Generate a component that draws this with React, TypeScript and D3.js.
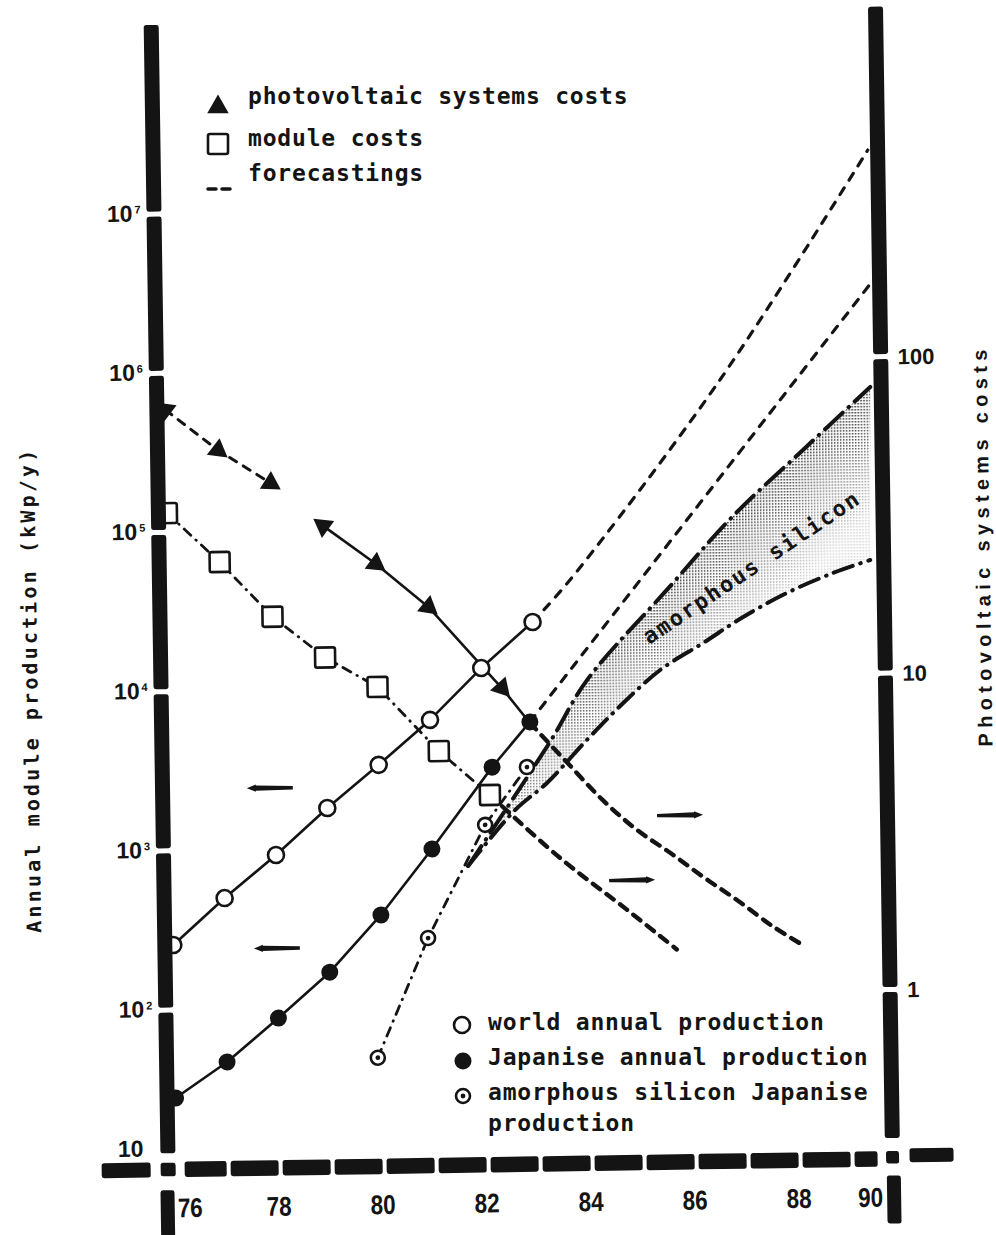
import React, { useRef, useEffect } from "react";
import * as d3 from "d3";

// production, left axis (kWp/y)
const worldYears = [76, 77, 78, 79, 80, 81, 82, 83];
const worldProduction = [256, 499, 920, 1795, 3315, 6280, 13150, 25300];
const worldForecastYears = [83, 83.73, 86.67, 89.58];
const worldForecast = [25300, 46100, 805000, 21700000];

const japanYears = [76, 77, 78, 79, 80, 81, 82.18, 82.92];
const japanProduction = [28, 46.6, 87, 167, 378, 971, 3130, 5970];
const japanForecastYears = [82.92, 89.58];
const japanForecast = [5970, 3100000];

const amorphousYears = [79.9, 80.9, 82.03, 82.85];
const amorphousProduction = [48, 268, 1360, 3110];

// amorphous silicon forecast band
const bandUpperYears = [81.69, 83.3, 84.03, 85.59, 86.87, 88.29, 89.56];
const bandUpper = [753, 4450, 10800, 39100, 111000, 296000, 705000];
const bandLowerYears = [81.69, 82.61, 83.23, 84.01, 84.72, 85.44, 86.27, 87.05, 87.9, 88.79, 89.51];
const bandLower = [753, 1675, 2460, 4540, 7690, 12300, 18000, 26000, 36500, 48200, 57700];
const bandLabel = "amorphous silicon";
const bandLabelYear = 87.29;
const bandLabelValue = 48300;

// costs, right axis
const systemYears = [76, 77, 78, 79, 80, 81, 82.39];
const systemCosts = [73.3, 54.4, 42.6, 31, 23.4, 17, 9.35];
const systemDashedUntil = 3;
const systemForecastYears = [82.92, 83.58, 84.3, 84.95, 85.58, 86.2, 86.85, 87.54, 88.09];
const systemForecast = [7.23, 5.5, 4.09, 3.28, 2.77, 2.32, 1.95, 1.6, 1.4];

const moduleYears = [76, 77, 78, 79, 80, 81.16, 82.13];
const moduleCosts = [34.6, 24.1, 16.1, 11.9, 9.55, 5.95, 4.3];
const moduleForecastYears = [82.13, 83.46, 84.73, 85.68];
const moduleForecast = [4.3, 2.7, 1.84, 1.37];

// little arrows telling which axis a curve belongs to
const leftArrowYears = [77.9, 77.99];
const leftArrowValues = [2430, 239];
const rightArrowYears = [85.78, 84.84];
const rightArrowValues = [3.64, 2.28];

const yearTicks = [76, 78, 80, 82, 84, 86, 88, 90];
const productionTicks = [1e7, 1e6, 1e5, 1e4, 1e3, 1e2];
const costTicks = [100, 10, 1];

const topLegend = ["photovoltaic systems costs", "module costs", "forecastings"];
const bottomLegend = ["world annual production", "Japanise annual production", "amorphous silicon Japanise", "production"];

const ink = "#141414";
const mono = "'DejaVu Sans Mono', 'Liberation Mono', monospace";
const sans = "'Liberation Sans', Arial, sans-serif";

export default function App() {
  const svgRef = useRef(null);

  useEffect(() => {
    const svg = d3.select(svgRef.current);
    svg.selectAll("*").remove();

    const x = d3.scaleLinear().domain([76, 90]).range([169, 897]);
    const yL = d3.scaleLog().domain([10, 1e7]).range([1164, 208.8]);
    const yR = d3.scaleLog().domain([1, 100]).range([995, 362]);

    const zip = (xs, vs) => xs.map((yr, i) => [yr, vs[i]]);
    const lineL = d3.line().x(d => x(d[0])).y(d => yL(d[1])).curve(d3.curveCatmullRom);
    const lineR = d3.line().x(d => x(d[0])).y(d => yR(d[1])).curve(d3.curveCatmullRom);

    const defs = svg.append("defs");
    const pat = defs.append("pattern").attr("id", "stipple")
      .attr("width", 3).attr("height", 3).attr("patternUnits", "userSpaceOnUse");
    pat.append("rect").attr("width", 1.5).attr("height", 1.5).attr("fill", ink);

    // the scan is a little tilted
    const g = svg.append("g").attr("transform", "rotate(-0.85 520 650)");

    // --- band (stippled, fading toward the lower edge)
    const up = zip(bandUpperYears, bandUpper);
    const lo = zip(bandLowerYears, bandLower);
    const last = up.length - 1;
    const tipX = x(up[0][0]), tipY = yL(up[0][1]);
    const endX = x(up[last][0]);
    const endY = (yL(up[last][1]) + yL(lo[lo.length - 1][1])) / 2;
    const len = Math.hypot(endX - tipX, endY - tipY);
    const nx = -(endY - tipY) / len, ny = (endX - tipX) / len;
    const gx = x(up[4][0]), gy = yL(up[4][1]);
    const grad = defs.append("linearGradient").attr("id", "bandFade")
      .attr("gradientUnits", "userSpaceOnUse")
      .attr("x1", gx).attr("y1", gy).attr("x2", gx + nx * 95).attr("y2", gy + ny * 95);
    grad.append("stop").attr("offset", 0).attr("stop-color", "#fff");
    grad.append("stop").attr("offset", 1).attr("stop-color", "#303030");
    defs.append("mask").attr("id", "bandMask").attr("maskUnits", "userSpaceOnUse")
      .attr("x", -200).attr("y", -200).attr("width", 1400).attr("height", 1600)
      .append("rect").attr("x", -200).attr("y", -200).attr("width", 1400).attr("height", 1600)
      .attr("fill", "url(#bandFade)");

    const bandPath = lineL(up) + lineL(lo.slice().reverse()).replace(/^M/, "L") + "Z";
    g.append("path").attr("d", bandPath).attr("fill", "url(#stipple)").attr("mask", "url(#bandMask)");

    const stroke = (sel, w, dash) => {
      sel.attr("fill", "none").attr("stroke", ink).attr("stroke-width", w)
        .attr("stroke-linecap", "round").attr("stroke-linejoin", "round");
      if (dash) sel.attr("stroke-dasharray", dash);
      return sel;
    };

    stroke(g.append("path").attr("d", lineL(up)), 4, "24 8 0.5 8");
    stroke(g.append("path").attr("d", lineL(lo)), 4, "20 8 0.5 8");

    // --- production lines
    const straightL = d3.line().x(d => x(d[0])).y(d => yL(d[1]));
    stroke(g.append("path").attr("d", straightL(zip(worldYears, worldProduction))), 2.6);
    stroke(g.append("path").attr("d", lineL(zip(worldForecastYears, worldForecast))), 3.2, "8 9");
    stroke(g.append("path").attr("d", straightL(zip(japanYears, japanProduction))), 2.6);
    stroke(g.append("path").attr("d", lineL(zip(japanForecastYears, japanForecast))), 3.2, "8 9");
    stroke(g.append("path").attr("d", straightL(zip(amorphousYears, amorphousProduction))), 2.8, "9 7 0.5 7");

    // --- cost lines
    const sys = zip(systemYears, systemCosts);
    const straightR = d3.line().x(d => x(d[0])).y(d => yR(d[1]));
    stroke(g.append("path").attr("d", straightR(sys.slice(0, systemDashedUntil))), 3, "8 8");
    stroke(g.append("path").attr("d", straightR(sys.slice(systemDashedUntil).concat([[systemForecastYears[0], systemForecast[0]]]))), 2.6);
    stroke(g.append("path").attr("d", lineR(zip(systemForecastYears, systemForecast))), 4.4, "9 8");
    stroke(g.append("path").attr("d", straightR(zip(moduleYears, moduleCosts))), 2.8, "9 7 0.5 7");
    stroke(g.append("path").attr("d", lineR(zip(moduleForecastYears, moduleForecast))), 4.4, "9 8");

    // --- markers
    moduleYears.forEach((yr, i) => {
      g.append("rect").attr("x", x(yr) - 10).attr("y", yR(moduleCosts[i]) - 10)
        .attr("width", 20).attr("height", 20).attr("rx", 2)
        .attr("fill", "#fff").attr("stroke", ink).attr("stroke-width", 2.6);
    });

    const tri = d3.symbol().type(d3.symbolTriangle).size(190)();
    const sysPts = sys.map(d => [x(d[0]), yR(d[1])]);
    sysPts.forEach((p, i) => {
      const first = i === 0 || i === systemDashedUntil;
      const q = first ? sysPts[i + 1] : sysPts[i - 1];
      const ang = Math.atan2(p[1] - q[1], p[0] - q[0]) * 180 / Math.PI + 90;
      g.append("path").attr("d", tri).attr("fill", ink)
        .attr("transform", `translate(${p[0]},${p[1]}) rotate(${ang})`);
    });

    worldYears.forEach((yr, i) => {
      g.append("circle").attr("cx", x(yr)).attr("cy", yL(worldProduction[i])).attr("r", 8)
        .attr("fill", "#fff").attr("stroke", ink).attr("stroke-width", 2.6);
    });
    japanYears.forEach((yr, i) => {
      g.append("circle").attr("cx", x(yr)).attr("cy", yL(japanProduction[i])).attr("r", 8.5).attr("fill", ink);
    });
    amorphousYears.forEach((yr, i) => {
      g.append("circle").attr("cx", x(yr)).attr("cy", yL(amorphousProduction[i])).attr("r", 7)
        .attr("fill", "#fff").attr("stroke", ink).attr("stroke-width", 2.6);
      g.append("circle").attr("cx", x(yr)).attr("cy", yL(amorphousProduction[i])).attr("r", 2.4).attr("fill", ink);
    });

    // --- little axis arrows
    const arrow = (cx, cy, dir) => {
      const tip = cx + dir * 23, base = tip - dir * 9, tail = cx - dir * 23;
      const p = d3.path();
      p.moveTo(tail, cy - 1.5);
      p.lineTo(base, cy - 2.7);
      p.lineTo(base, cy - 3.7);
      p.lineTo(tip, cy);
      p.lineTo(base, cy + 3.7);
      p.lineTo(base, cy + 2.7);
      p.lineTo(tail, cy + 1.9);
      p.closePath();
      g.append("path").attr("d", p.toString()).attr("fill", ink);
    };
    leftArrowYears.forEach((yr, i) => arrow(x(yr), yL(leftArrowValues[i]), -1));
    rightArrowYears.forEach((yr, i) => arrow(x(yr), yR(rightArrowValues[i]), 1));

    // band label
    g.append("text")
      .attr("transform", `translate(${x(bandLabelYear)},${yL(bandLabelValue)}) rotate(-33)`)
      .attr("text-anchor", "middle").attr("font-family", mono).attr("font-weight", "bold")
      .attr("font-size", 22).attr("textLength", 255).attr("lengthAdjust", "spacing")
      .attr("fill", ink).text(bandLabel);

    // --- thick broken axis bars
    const bar = (x0, x1, y0, y1) => {
      g.append("rect").attr("x", x0).attr("y", y0).attr("width", x1 - x0).attr("height", y1 - y0)
        .attr("rx", 2.5).attr("fill", ink);
    };
    const gap = 2.5;
    const leftCx = x(76) - 8.5;
    const rightCx = x(90) - 12;
    const axisY = yL(10);

    const lb = [19.6].concat(productionTicks.map(v => yL(v)), [1148]);
    lb.slice(1).forEach((b, i) => {
      const a = lb[i];
      bar(leftCx - 7.5, leftCx + 7.5, i === 0 ? a : a + gap, i === lb.length - 2 ? b : b - gap);
    });
    bar(leftCx - 7.5, leftCx + 7.5, axisY - 6.5, axisY + 7);
    bar(leftCx - 8, leftCx + 6, 1185, 1250);

    const rb = [12].concat(costTicks.map(v => yR(v)), [1143.5]);
    rb.slice(1).forEach((b, i) => {
      const a = rb[i];
      bar(rightCx - 7.5, rightCx + 7.5, i === 0 ? a : a + gap, i === rb.length - 2 ? b : b - gap);
    });
    bar(rightCx - 6.5, rightCx + 6.5, axisY - 7.5, axisY + 5);
    bar(rightCx - 6, rightCx + 8, 1181, 1229);

    const xb = [177].concat(d3.range(77, 90).map(v => x(v)), [870]);
    xb.slice(1).forEach((b, i) => {
      const a = xb[i];
      bar(i === 0 ? a : a + 2, i === xb.length - 2 ? b : b - 2, axisY - 7.5, axisY + 8);
    });
    bar(94, 143, axisY - 7, axisY + 8);
    bar(rightCx + 17, rightCx + 61, axisY - 10, axisY + 4);

    // --- tick labels
    productionTicks.forEach(v => {
      g.append("text").attr("x", 139).attr("y", yL(v) + 7).attr("text-anchor", "end")
        .attr("font-family", sans).attr("font-weight", "bold")
        .attr("font-size", 23).attr("fill", ink).text("10");
      g.append("text").attr("x", 141).attr("y", yL(v) - 1).attr("font-family", sans).attr("font-weight", "bold")
        .attr("font-size", 11).attr("fill", ink).text(String(Math.round(Math.log10(v))));
    });
    g.append("text").attr("x", 136).attr("y", axisY - 13).attr("text-anchor", "end")
      .attr("font-family", sans).attr("font-weight", "bold").attr("font-size", 23).attr("fill", ink).text("10");

    costTicks.forEach(v => {
      g.append("text").attr("x", rightCx + 17).attr("y", yR(v) + 8)
        .attr("font-family", sans).attr("font-weight", "bold").attr("font-size", 22).attr("fill", ink)
        .text(String(v));
    });

    yearTicks.forEach(yr => {
      const t = g.append("text").attr("y", 1212).attr("font-family", sans).attr("font-weight", "bold")
        .attr("font-size", 27).attr("textLength", 25).attr("lengthAdjust", "spacingAndGlyphs")
        .attr("fill", ink).text(String(yr));
      if (yr === 76) t.attr("x", leftCx + 9).attr("text-anchor", "start");
      else if (yr === 90) t.attr("x", rightCx - 10).attr("text-anchor", "end");
      else t.attr("x", x(yr) - 2).attr("text-anchor", "middle");
    });

    // axis titles
    g.append("text").attr("transform", "translate(37,684) rotate(-90)")
      .attr("text-anchor", "middle").attr("font-family", mono).attr("font-weight", "bold")
      .attr("font-size", 20).attr("textLength", 483).attr("lengthAdjust", "spacing")
      .attr("fill", ink).text("Annual module production (kWp/y)");
    g.append("text").attr("transform", "translate(991,555) rotate(-90)")
      .attr("text-anchor", "middle").attr("font-family", sans).attr("font-weight", "bold")
      .attr("font-size", 20).attr("textLength", 397).attr("lengthAdjust", "spacing")
      .attr("fill", ink).text("Photovoltaic systems costs");

    // --- legends (page coordinates)
    const legendText = (txt, lx, ly, w) => {
      svg.append("text").attr("x", lx).attr("y", ly).attr("font-family", mono).attr("font-weight", "bold")
        .attr("font-size", 23).attr("textLength", w).attr("lengthAdjust", "spacing")
        .attr("fill", ink).text(txt);
    };
    const perChar = 14.6;
    svg.append("path").attr("d", d3.symbol().type(d3.symbolTriangle).size(200)())
      .attr("transform", "translate(218,107)").attr("fill", ink);
    svg.append("rect").attr("x", 208).attr("y", 134).attr("width", 20).attr("height", 20).attr("rx", 2)
      .attr("fill", "#fff").attr("stroke", ink).attr("stroke-width", 2.6);
    stroke(svg.append("line").attr("x1", 208).attr("x2", 233).attr("y1", 189).attr("y2", 189), 3.5, "8 6");
    [104, 146, 181].forEach((ly, i) => legendText(topLegend[i], 248, ly, topLegend[i].length * perChar));

    svg.append("circle").attr("cx", 462).attr("cy", 1025).attr("r", 8)
      .attr("fill", "#fff").attr("stroke", ink).attr("stroke-width", 2.6);
    svg.append("circle").attr("cx", 463).attr("cy", 1061).attr("r", 8.5).attr("fill", ink);
    svg.append("circle").attr("cx", 463).attr("cy", 1096).attr("r", 7)
      .attr("fill", "#fff").attr("stroke", ink).attr("stroke-width", 2.6);
    svg.append("circle").attr("cx", 463).attr("cy", 1096).attr("r", 2.4).attr("fill", ink);
    [1030, 1065, 1100, 1131].forEach((ly, i) => legendText(bottomLegend[i], 488, ly, bottomLegend[i].length * perChar));
  }, []);

  return (
    <svg ref={svgRef} width={996} height={1235}
      style={{ position: "absolute", left: 0, top: 0, background: "#fff", display: "block" }} />
  );
}
